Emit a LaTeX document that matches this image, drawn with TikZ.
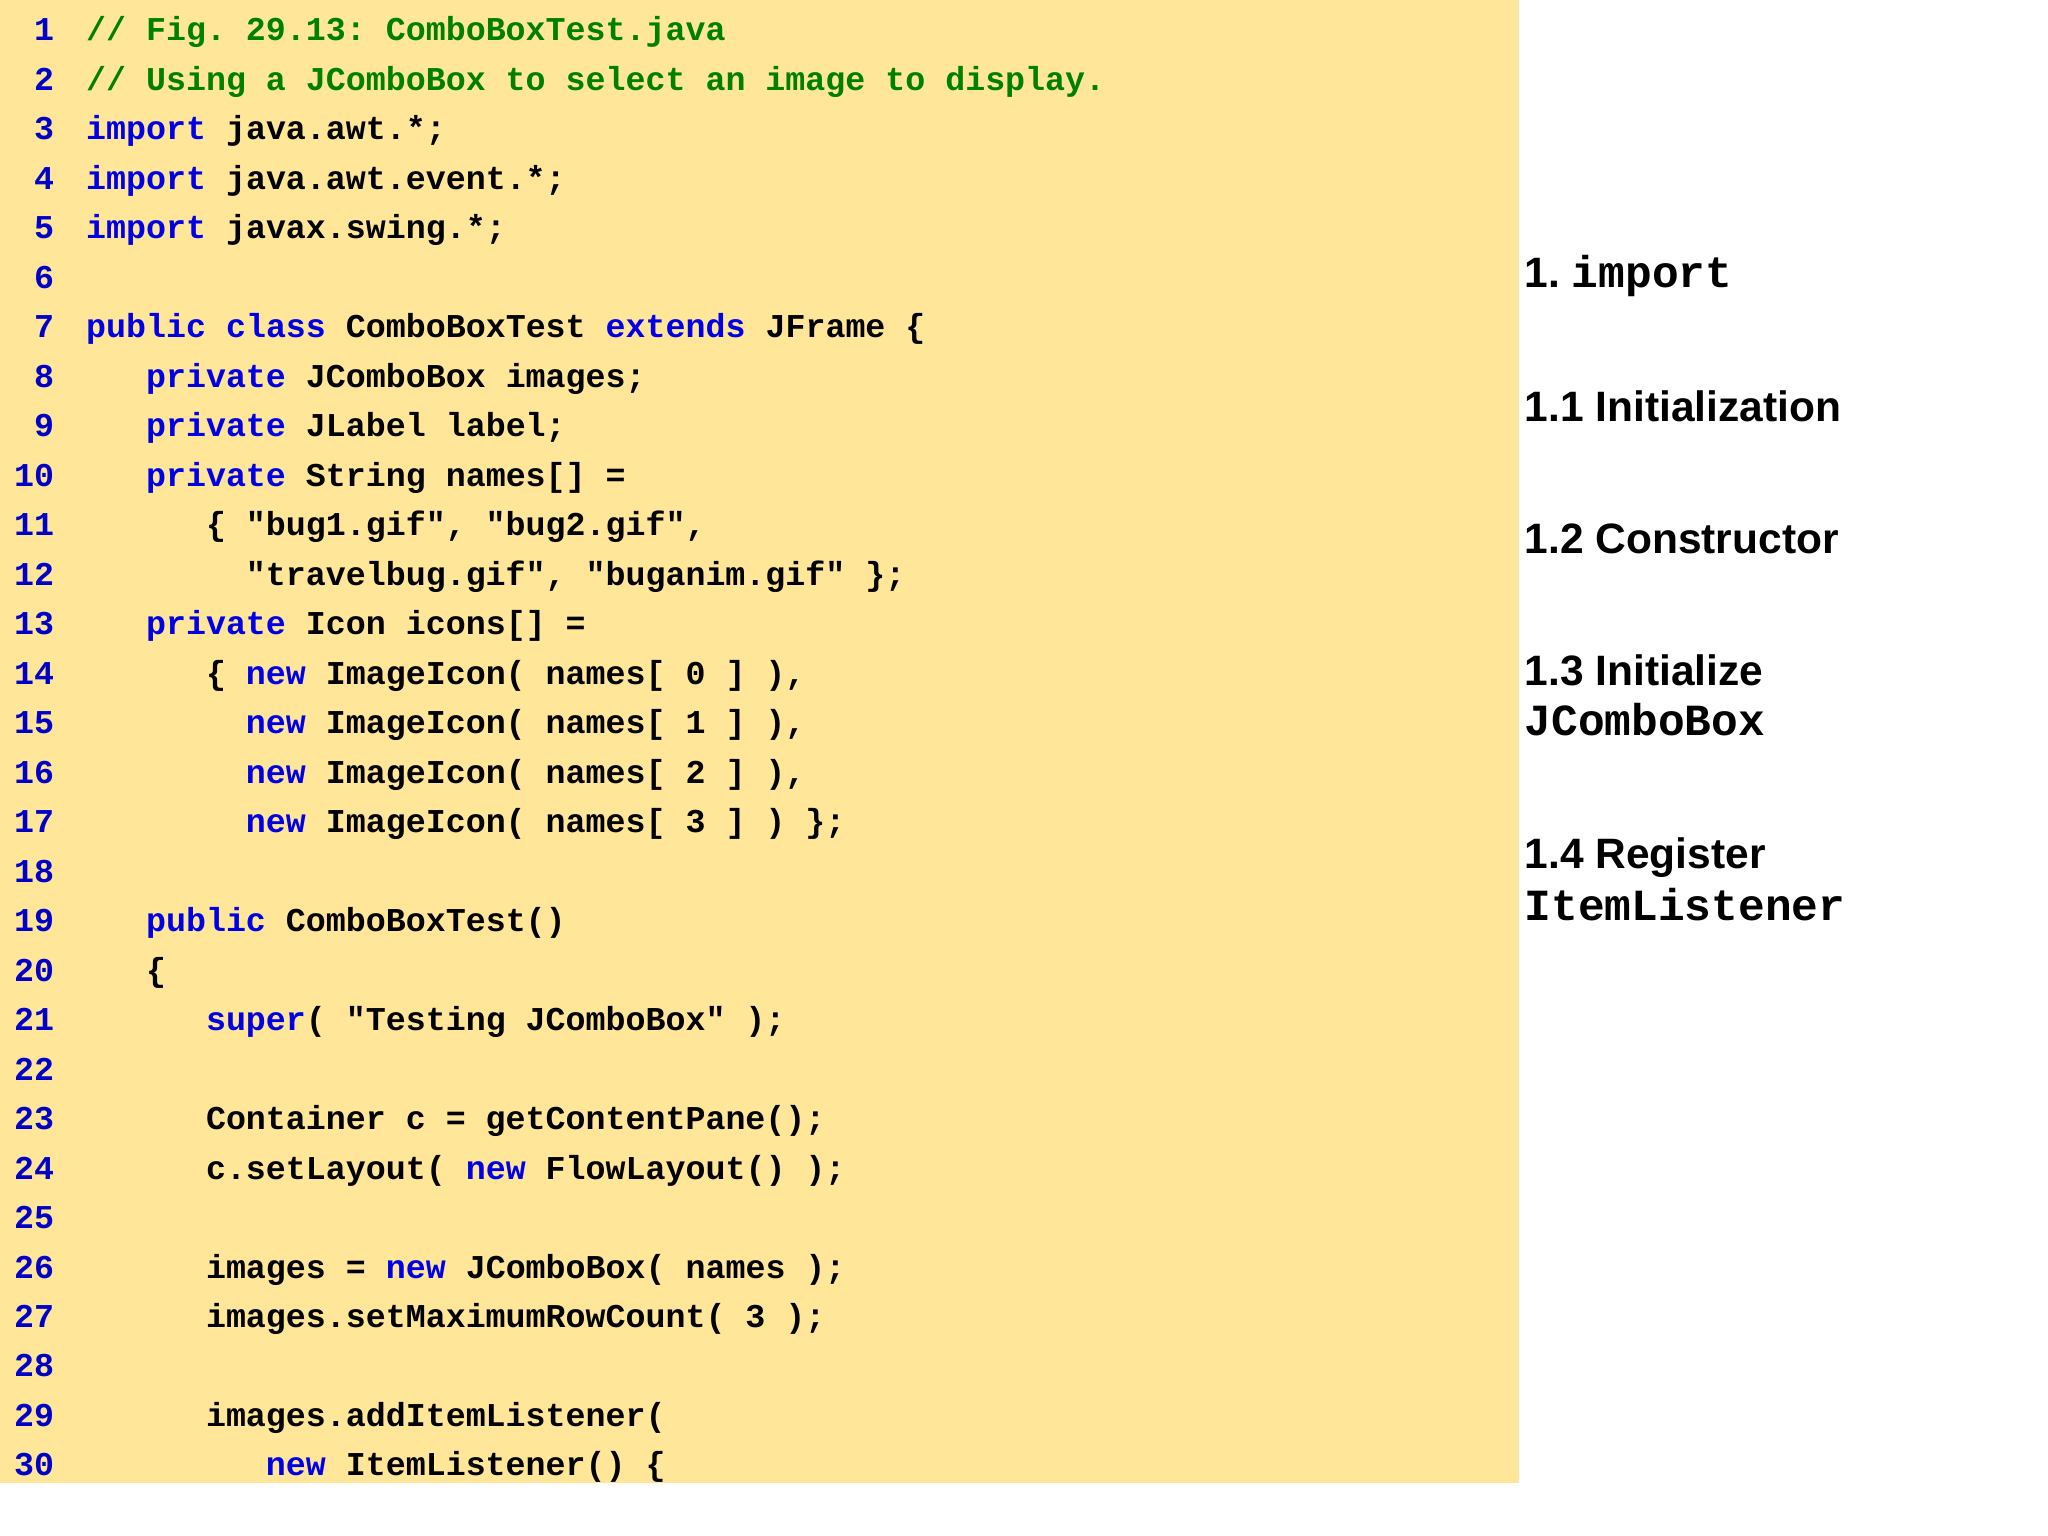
\documentclass[tikz,border=0pt]{standalone}
\usepackage{fontspec}
\setmainfont{Liberation Sans}
\newfontfamily\cf{Liberation Mono}
\definecolor{bg}{RGB}{255,230,153}
\definecolor{kwc}{RGB}{0,0,230}
\definecolor{cmc}{RGB}{0,128,0}
\definecolor{numc}{RGB}{0,0,200}
\newcommand{\kw}[1]{\textcolor{kwc}{#1}}
\frenchspacing
\begin{document}
\begin{tikzpicture}[x=0.988pt,y=-0.988pt,
  code/.style={anchor=base west,inner sep=0pt,font=\cf\bfseries\fontsize{33.3}{40}\selectfont},
  num/.style={anchor=base east,inner sep=0pt,text=numc,font=\cf\bfseries\fontsize{33.3}{40}\selectfont},
  lab/.style={anchor=base west,inner sep=0pt,font=\bfseries\fontsize{42.5}{50}\selectfont},
  labm/.style={anchor=base west,inner sep=0pt,font=\cf\bfseries\fontsize{44.5}{50}\selectfont}]
\useasboundingbox (0pt,0pt) rectangle (2048pt,-1536pt);
\fill[bg] (0,0) rectangle (1537,1501);
\def\L#1#2#3{\node[num] (n#1) at (55,{41+(#1-1)*50.1}) {#1};
  \ifx\relax#3\relax\else\node[code] (c#1) at ({87+#2*20.22},{41+(#1-1)*50.1}) {#3};\fi}
\L{1}{0}{\textcolor{cmc}{// Fig. 29.13: ComboBoxTest.java}}
\L{2}{0}{\textcolor{cmc}{// Using a JComboBox to select an image to display.}}
\L{3}{0}{\kw{import} java.awt.*;}
\L{4}{0}{\kw{import} java.awt.event.*;}
\L{5}{0}{\kw{import} javax.swing.*;}
\L{6}{0}{}
\L{7}{0}{\kw{public} \kw{class} ComboBoxTest \kw{extends} JFrame \{}
\L{8}{3}{\kw{private} JComboBox images;}
\L{9}{3}{\kw{private} JLabel label;}
\L{10}{3}{\kw{private} String names[] =}
\L{11}{6}{\{ "bug1.gif", "bug2.gif",}
\L{12}{8}{"travelbug.gif", "buganim.gif" \};}
\L{13}{3}{\kw{private} Icon icons[] =}
\L{14}{6}{\{ \kw{new} ImageIcon( names[ 0 ] ),}
\L{15}{8}{\kw{new} ImageIcon( names[ 1 ] ),}
\L{16}{8}{\kw{new} ImageIcon( names[ 2 ] ),}
\L{17}{8}{\kw{new} ImageIcon( names[ 3 ] ) \};}
\L{18}{0}{}
\L{19}{3}{\kw{public} ComboBoxTest()}
\L{20}{3}{\{}
\L{21}{6}{\kw{super}( "Testing JComboBox" );}
\L{22}{0}{}
\L{23}{6}{Container c = getContentPane();}
\L{24}{6}{c.setLayout( \kw{new} FlowLayout() );}
\L{25}{0}{}
\L{26}{6}{images = \kw{new} JComboBox( names );}
\L{27}{6}{images.setMaximumRowCount( 3 );}
\L{28}{0}{}
\L{29}{6}{images.addItemListener(}
\L{30}{9}{\kw{new} ItemListener() \{}
\node[lab] (l1) at (1543,291) {1. {\cf\fontsize{44.5}{50}\selectfont import}};
\node[lab] (l2) at (1543,427) {1.1 Initialization};
\node[lab] (l3) at (1543,560) {1.2 Constructor};
\node[lab] (l4) at (1543,694) {1.3 Initialize};
\node[labm] (l4b) at (1543,744) {JComboBox};
\node[lab] (l5) at (1543,879) {1.4 Register};
\node[labm] (l5b) at (1543,932) {ItemListener};
\end{tikzpicture}
\end{document}
